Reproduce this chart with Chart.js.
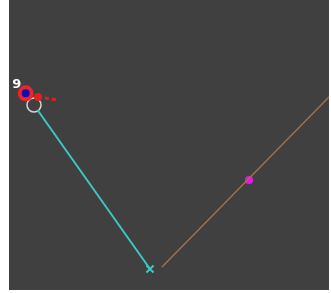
<!DOCTYPE html>
<html>
<head>
<meta charset="utf-8">
<script src="https://cdn.jsdelivr.net/npm/chart.js@4/dist/chart.umd.min.js"></script>
<style>
  html, body { margin: 0; padding: 0; background: #fff; }
  #wrap { position: absolute; left: 9px; top: 0; width: 320px; height: 290px; background: #404040; }
</style>
</head>
<body>
<div id="wrap"><canvas id="c"></canvas></div>
<script>
// values in plot units (x 0..32, y 0..29)
const cyanX = [2.85, 14.1];
const cyanY = [18.0, 2.1];
const brownX = [15.3, 32.0];
const brownY = [2.3, 19.3];
const dotX = [24.0];
const dotY = [11.0];
const markX = [1.67];
const markY = [19.67];
const markLabels = ['9'];
const dashX = [2.9, 4.9];
const dashY = [19.3, 19.0];
const ringX = [2.5];
const ringY = [18.5];

const pts = (xs, ys) => xs.map((x, i) => ({ x, y: ys[i] }));

// writes the label above-left of the marked point
const labelPlugin = {
    id: 'markLabel',
    afterDatasetsDraw(chart) {
        const meta = chart.getDatasetMeta(4);
        const ctx = chart.ctx;
        ctx.save();
        ctx.fillStyle = '#ffffff';
        ctx.font = 'bold 13px "DejaVu Sans", sans-serif';
        ctx.textAlign = 'center';
        ctx.textBaseline = 'middle';
        meta.data.forEach((el, i) => {
            ctx.fillText(markLabels[i], el.x - 9, el.y - 9);
        });
        ctx.restore();
    }
};

new Chart(document.getElementById('c'), {
    type: 'scatter',
    data: {
        datasets: [
            {
                data: pts(cyanX, cyanY),
                showLine: true,
                borderColor: '#3cc8c0',
                borderWidth: 2,
                pointRadius: [0, 5],
                pointStyle: 'crossRot',
                pointBorderColor: '#3cc8c0',
                pointBorderWidth: 2
            },
            {
                data: pts(brownX, brownY),
                showLine: true,
                borderColor: '#a0704c',
                borderWidth: 1.5,
                pointRadius: 0
            },
            {
                data: pts(dotX, dotY),
                pointRadius: 4,
                backgroundColor: '#ee11ee',
                borderColor: '#ee11ee',
                borderWidth: 0
            },
            {
                data: pts(dashX, dashY),
                showLine: true,
                borderColor: '#e02020',
                borderWidth: 3,
                borderDash: [4, 3],
                pointRadius: [2.5, 0],
                backgroundColor: '#e02020',
                borderCapStyle: 'butt'
            },
            {
                data: pts(markX, markY),
                pointRadius: 6,
                backgroundColor: '#1010b0',
                borderColor: '#e8242c',
                borderWidth: 4
            },
            {
                data: pts(ringX, ringY),
                pointRadius: 7,
                backgroundColor: 'rgba(0,0,0,0)',
                borderColor: '#d8d8d8',
                borderWidth: 1.5
            }
        ]
    },
    options: {
        responsive: true,
        maintainAspectRatio: false,
        animation: false,
        layout: { padding: 0, autoPadding: false },
        plugins: {
            legend: { display: false },
            tooltip: { enabled: false }
        },
        scales: {
            x: { type: 'linear', min: 0, max: 32, display: false },
            y: { type: 'linear', min: 0, max: 29, display: false }
        }
    },
    plugins: [labelPlugin]
});
</script>
</body>
</html>
